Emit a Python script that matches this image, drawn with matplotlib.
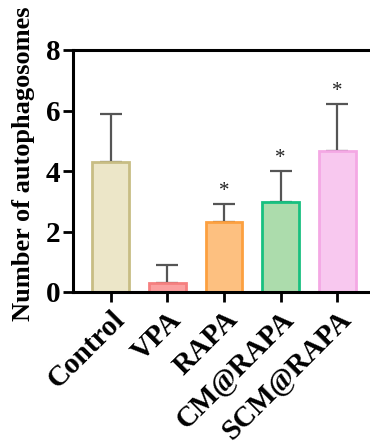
import numpy as np
import matplotlib
matplotlib.use('Agg')
import matplotlib.pyplot as plt

plt.rcParams['font.family'] = ['Liberation Serif', 'DejaVu Serif']
plt.rcParams['font.weight'] = 'bold'

groups = ['Control', 'VPA', 'RAPA', 'CM@RAPA', 'SCM@RAPA']
means = [4.30, 0.30, 2.32, 2.98, 4.66]
sds = [1.58, 0.60, 0.59, 1.03, 1.54]
signif = ['', '', '*', '*', '*']
fills = ['#ece6c8', '#fba0a0', '#fdc080', '#acdcac', '#f8c8ef']
edges = ['#c8bd84', '#f58080', '#fca040', '#18c080', '#f4a8e4']

fig = plt.figure(figsize=(3.70, 4.45), dpi=100)
ax = fig.add_axes([73 / 370, 1 - 292 / 445, 321 / 370, 242 / 445])

x = np.arange(len(groups))
ax.bar(x, means, width=0.645, color=fills, edgecolor=edges, linewidth=2, zorder=2)
ax.errorbar(x, means, yerr=[np.zeros(len(sds)), sds], fmt='none', ecolor='#555555',
            elinewidth=1.6, capsize=8, capthick=1.6, zorder=1)

for xi, m, s, t in zip(x, means, sds, signif):
    if t:
        ax.text(xi, m + s + 0.1, t, ha='center', va='bottom', fontsize=15,
                fontweight='normal', color='#222222')

ax.set_xlim(-0.665, 5.0)
ax.set_ylim(0, 8)
ax.set_yticks([0, 2, 4, 6, 8])
ax.set_xticks(x)
ax.set_xticklabels(groups, rotation=45, ha='right', rotation_mode='anchor')
ax.tick_params(axis='both', labelsize=21, width=2, length=7, direction='out')
ax.tick_params(axis='x', pad=3)
ax.tick_params(axis='y', pad=2)
for s in ax.spines.values():
    s.set_linewidth(2.2)
ax.set_ylabel('Number of autophagosomes', fontsize=19, fontweight='bold')
ax.yaxis.set_label_coords(-0.118, 0.53)

fig.savefig('out.png', dpi=100)
